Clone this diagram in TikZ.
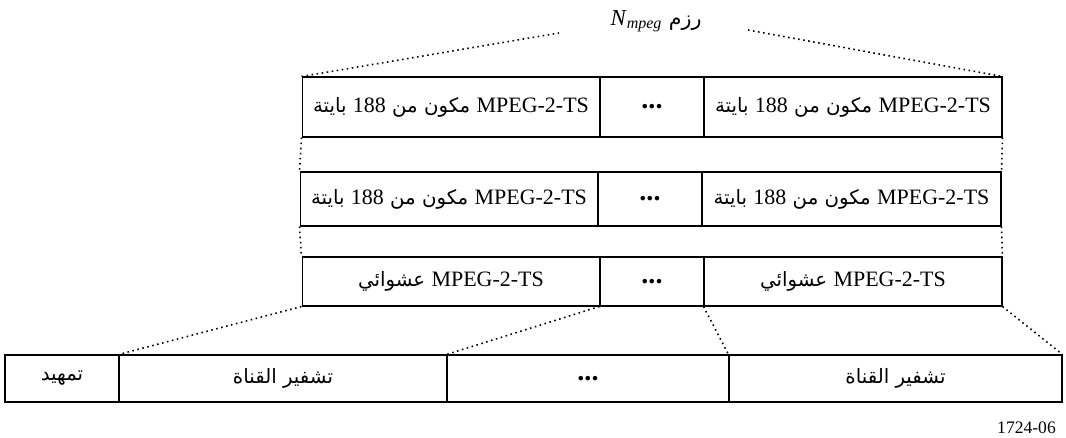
\documentclass[tikz,border=0pt]{standalone}
\usepackage{fontspec}
\setmainfont{Liberation Serif}
\newfontfamily\arabicfont[Script=Arabic,Scale=0.9]{DejaVu Sans}
\TeXXeTstate=1
\newcommand\latin[1]{\beginL{\rmfamily #1}\endL}
\newcommand\gap{{\fontsize{16}{16}\selectfont\textbf{...}}}

\begin{document}
\begin{tikzpicture}[x=0.02cm, y=-0.02cm,
    cell/.style={draw, line width=0.6pt, inner sep=0pt, font=\fontsize{12.5}{15}\selectfont},
    link/.style={dotted, line width=0.9pt}]
    \useasboundingbox (0,0) rectangle (1066,437);

    % Title and the ends of the two top dotted lines
    \node[font=\fontsize{13}{15}\selectfont] (title) at (656, 21)
        {\arabicfont\beginR رزم \latin{\textit{N}\textsubscript{\textit{mpeg}}}\endR};
    \coordinate (tl) at (559, 33);
    \coordinate (tr) at (748, 30);

    % First row of packets
    \node[cell, minimum width=5.96cm, minimum height=1.2cm] (r1a) at (451, 107)
        {\arabicfont\beginR\latin{MPEG-2-TS} مكون من \latin{188} بايتة\endR};
    \node[cell, minimum width=2.08cm, minimum height=1.2cm] (r1b) at (652, 107) {\gap};
    \node[cell, minimum width=5.96cm, minimum height=1.2cm] (r1c) at (853, 107)
        {\arabicfont\beginR\latin{MPEG-2-TS} مكون من \latin{188} بايتة\endR};

    % Second row of packets
    \node[cell, minimum width=5.96cm, minimum height=1.08cm] (r2a) at (449, 199)
        {\arabicfont\beginR\latin{MPEG-2-TS} مكون من \latin{188} بايتة\endR};
    \node[cell, minimum width=2.08cm, minimum height=1.08cm] (r2b) at (650, 199) {\gap};
    \node[cell, minimum width=5.98cm, minimum height=1.08cm] (r2c) at (851.5, 199)
        {\arabicfont\beginR\latin{MPEG-2-TS} مكون من \latin{188} بايتة\endR};

    % Randomised packets
    \node[cell, minimum width=5.96cm, minimum height=0.98cm] (r3a) at (451, 281.5)
        {\arabicfont\beginR\latin{MPEG-2-TS} عشوائي\endR};
    \node[cell, minimum width=2.08cm, minimum height=0.98cm] (r3b) at (652, 281.5) {\gap};
    \node[cell, minimum width=5.96cm, minimum height=0.98cm] (r3c) at (853, 281.5)
        {\arabicfont\beginR\latin{MPEG-2-TS} عشوائي\endR};

    % Frame at the bottom
    \node[cell, minimum width=2.28cm, minimum height=0.94cm] (b1) at (62, 378.5)
        {\arabicfont\beginR تمهيد\endR};
    \node[cell, minimum width=6.56cm, minimum height=0.94cm] (b2) at (283, 378.5)
        {\arabicfont\beginR تشفير القناة\endR};
    \node[cell, minimum width=5.64cm, minimum height=0.94cm] (b3) at (588, 378.5) {\gap};
    \node[cell, minimum width=6.66cm, minimum height=0.94cm] (b4) at (895.5, 378.5)
        {\arabicfont\beginR تشفير القناة\endR};

    \node[anchor=east, font=\fontsize{10}{12}\selectfont] (fig) at (1062, 428) {1724-06};

    % Dotted lines
    \draw[link] (r1a.north west) -- (tl);
    \draw[link] (tr) -- (r1c.north east);
    \draw[link] (r1a.south west) -- (r2a.north west);
    \draw[link] (r2a.south west) -- (r3a.north west);
    \draw[link] (r1c.south east) -- (r2c.north east);
    \draw[link] (r2c.south east) -- (r3c.north east);
    \draw[link] (r3a.south west) -- (b2.north west);
    \draw[link] (r3b.south west) -- (b3.north west);
    \draw[link] (r3c.south west) -- (b4.north west);
    \draw[link] (r3c.south east) -- (b4.north east);
\end{tikzpicture}
\end{document}
